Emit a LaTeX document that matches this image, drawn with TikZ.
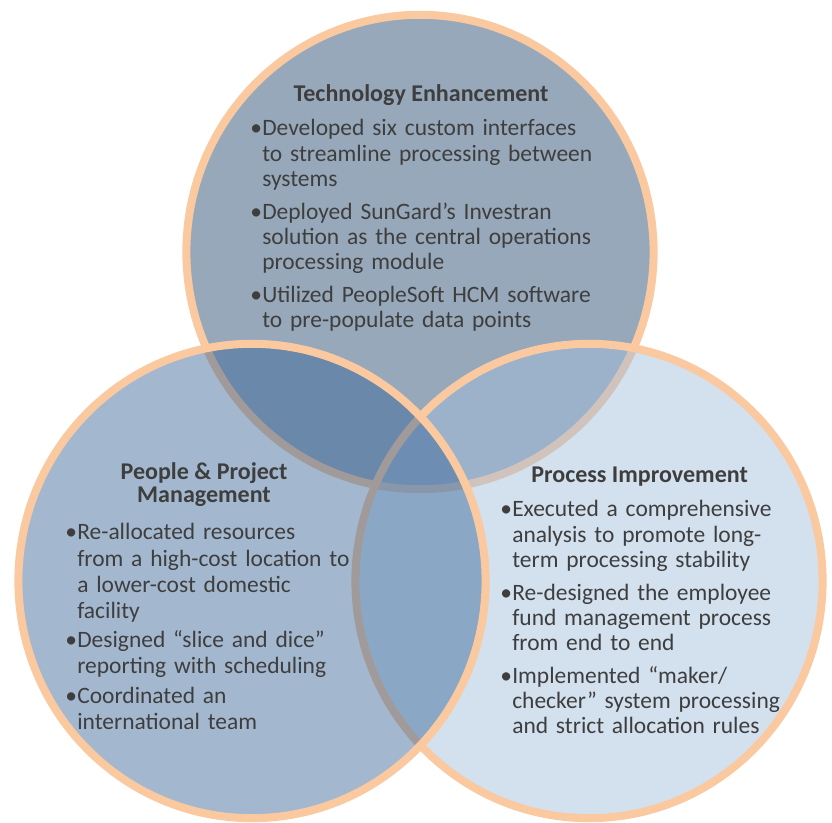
\documentclass[tikz,border=0pt]{standalone}
\usepackage{fontspec}
\setmainfont{Carlito}
\usepackage{xcolor}
\usetikzlibrary{positioning}

\definecolor{peach}{RGB}{251,201,160}
\definecolor{techfill}{RGB}{151,168,186}
\definecolor{procfill}{RGB}{163,190,220}
\definecolor{peoplefill}{RGB}{55,100,150}
\definecolor{ink}{RGB}{62,62,62}

% one bullet paragraph, hanging indent after the first line
\newcommand{\bitem}[2][5.7pt]{\parskip=#1\hyphenpenalty=10000\hangindent=0.3cm\hangafter=1\noindent\makebox[0.3cm][l]{•}#2\par}

\begin{document}
\begin{tikzpicture}[
    venn/.style={line width=0.2cm, draw=peach},
    heading/.style={font=\fontsize{17.1}{17}\selectfont\bfseries, text=ink, align=center, inner sep=0pt},
    items/.style={font=\fontsize{16.7}{17.8}\selectfont, text=ink, text width=10cm, align=left, inner sep=0pt}
]
\useasboundingbox (0,0) rectangle (20.8,20.575);

\coordinate (tech) at (10.5,14.275);
\coordinate (people) at (6.3,6.05);
\coordinate (proc) at (14.725,6.05);

\draw[venn, fill=techfill] (tech) ellipse [x radius=5.84, y radius=5.93];
\draw[venn, fill=procfill, fill opacity=0.48] (proc) ellipse [x radius=5.84, y radius=5.93];
\draw[venn, fill=peoplefill, fill opacity=0.46] (people) ellipse [x radius=5.84, y radius=5.93];

\node[heading, anchor=base] (techhead) at (10.525,18.025) {Technology Enhancement};
\node[items, anchor=base west] (techlist) at (6.25,17.175) {%
\bitem{Developed six custom interfaces\newline to streamline processing between\newline systems}
\bitem{Deployed SunGard’s Investran\newline solution as the central operations\newline processing module}
\bitem{Utilized PeopleSoft HCM software\newline to pre-populate data points}};

\node[heading, anchor=base] (peoplehead) at (5.1,8.0) {People \& Project\\Management};
\node[items, font=\fontsize{16.7}{18.5}\selectfont, anchor=base west] (peoplelist) at (1.625,7.075) {%
\bitem[2.5pt]{Re-allocated resources\newline from a high-cost location to\newline a lower-cost domestic\newline facility}
\bitem[2.5pt]{Designed “slice and dice”\newline reporting with scheduling}
\bitem[2.5pt]{Coordinated an\newline international team}};

\node[heading, anchor=base] (prochead) at (15.99,8.5) {Process Improvement};
\node[items, anchor=base west] (proclist) at (12.5,7.65) {%
\bitem{Executed a comprehensive\newline analysis to promote long-\newline term processing stability}
\bitem{Re-designed the employee\newline fund management process\newline from end to end}
\bitem{Implemented “maker/\newline checker” system processing\newline and strict allocation rules}};

\end{tikzpicture}
\end{document}
